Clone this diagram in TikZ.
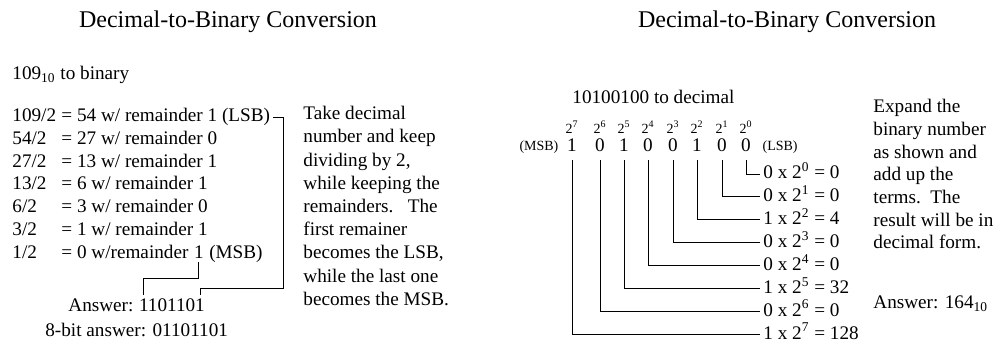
\documentclass[tikz,border=0pt]{standalone}
\usepackage{fontspec}
\setmainfont{Liberation Serif}
\usetikzlibrary{positioning}

\tikzset{
    txt/.style={anchor=west, inner sep=0pt, text height=6.8pt, text depth=2pt, font=\fontsize{9.6}{11.35}\selectfont},
    absatz/.style={anchor=north west, align=left, inner sep=0pt, font=\fontsize{9.6}{11.35}\selectfont},
    titel/.style={inner sep=0pt, font=\fontsize{12}{14}\selectfont},
    klein/.style={inner sep=0pt, font=\fontsize{7}{8}\selectfont},
    linie/.style={line width=0.5pt}
}

\begin{document}
\begin{tikzpicture}[x=0.5pt, y=-0.5pt]
    \useasboundingbox (0,0) rectangle (1000,343);

    %Ueberschriften
    \node[titel] (titelL) at (228,22) {Decimal-to-Binary Conversion};
    \node[titel] (titelR) at (787,22) {Decimal-to-Binary Conversion};

    %Dezimal -> Binaer
    \node[txt] (aufgabeL) at (12,75) {109\textsubscript{10} to binary};
    \node[txt] (d1) at (12,117)   {109/2};
    \node[txt] (d2) at (12,139.7) {54/2};
    \node[txt] (d3) at (12,162.4) {27/2};
    \node[txt] (d4) at (12,185.1) {13/2};
    \node[txt] (d5) at (12,207.8) {6/2};
    \node[txt] (d6) at (12,230.5) {3/2};
    \node[txt] (d7) at (12,253.2) {1/2};
    \node[txt] (r1) at (61,117)   {= 54 w/ remainder 1 (LSB)};
    \node[txt] (r2) at (61,139.7) {= 27 w/ remainder 0};
    \node[txt] (r3) at (61,162.4) {= 13 w/ remainder 1};
    \node[txt] (r4) at (61,185.1) {= 6 w/ remainder 1};
    \node[txt] (r5) at (61,207.8) {= 3 w/ remainder 0};
    \node[txt] (r6) at (61,230.5) {= 1 w/ remainder 1};
    \node[txt] (r7) at (61,253.2) {= 0 w/remainder};
    \node[txt, base right=2.4pt of r7] (msbeins) {1};
    \node[txt, base right=2.4pt of msbeins] (msbL) {(MSB)};

    \node[txt] (antwortL) at (68,307) {Answer:};
    \node[txt, base right=2.4pt of antwortL] (ansnum) {1101101};
    \node[txt] (achtbit) at (45,332) {8-bit answer: 01101101};

    %Klammern
    \coordinate (eckeR) at (283,288);
    \draw[linie, shorten <=1.5pt, shorten >=1.5pt] (r1.east) -| (eckeR) -| ([xshift=-2.4pt]ansnum.north east);
    \draw[linie, shorten >=1.5pt] (msbeins.south) -- ++(0,16) -| ([xshift=2.4pt]ansnum.north west);

    \node[absatz, font=\fontsize{9.6}{11.6}\selectfont] (erklL) at (303,106) {Take decimal\\number and keep\\dividing by 2,\\while keeping the\\remainders.\ \ \ The\\first remainer\\becomes the LSB,\\while the last one\\becomes the MSB.};

    %Binaer -> Dezimal
    \node[txt] (aufgabeR) at (572,99) {10100100 to decimal};
    \foreach \k/\b/\w/\x in {0/0/0/746, 1/0/0/722, 2/1/4/697, 3/0/0/673, 4/0/0/648, 5/1/32/624, 6/0/0/600, 7/1/128/572} {
        \node[klein] (e\k) at (\x,127) {2\textsuperscript{\k}};
        \node[txt, anchor=center] (b\k) at (\x,147) {\b};
        \node[txt] (t\k) at (763,{174+22.9*\k}) {\b{} x 2\textsuperscript{\k} = \w};
        \draw[linie, shorten <=2pt, shorten >=1.5pt] (b\k.south) |- (t\k.west);
    }
    \node[klein, left=4pt of b7] (msbR) {(MSB)};
    \node[klein, right=5.5pt of b0] (lsbR) {(LSB)};

    \node[absatz] (erklR) at (873,99) {Expand the\\binary number\\as shown and\\add up the\\terms.\ \ The\\result will be in\\decimal form.};
    \node[txt] (antwortR) at (873,304) {Answer: 164\textsubscript{10}};
\end{tikzpicture}
\end{document}
